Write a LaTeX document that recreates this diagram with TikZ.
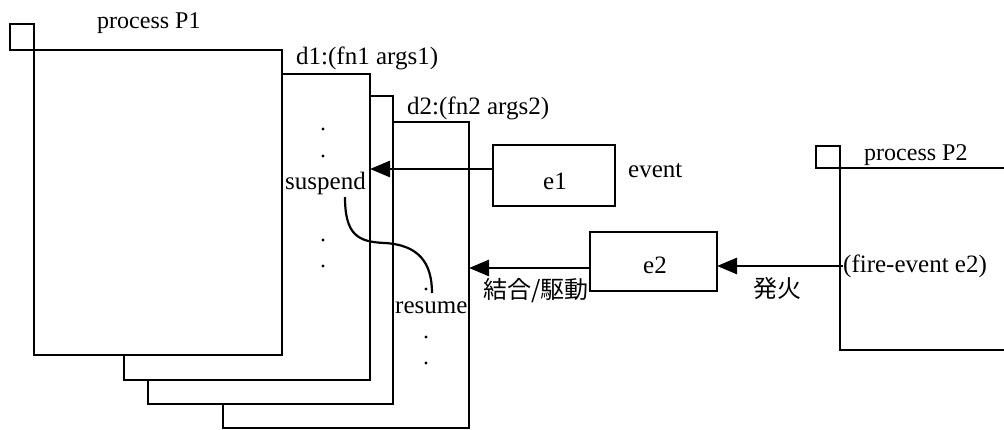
\documentclass[tikz,border=0pt]{standalone}
\usepackage{fontspec}
\setmainfont{Liberation Serif}
\newfontfamily\cjk{Noto Sans CJK JP}
\usetikzlibrary{arrows.meta}
\begin{document}
\begin{tikzpicture}[x=1pt,y=-1pt,
  box/.style={draw, line width=2.8pt, fill=white, inner sep=0pt, outer sep=0pt, rectangle},
  lbl/.style={inner sep=0pt, font=\fontsize{25}{30}\selectfont},
  plbl/.style={inner sep=0pt, font=\fontsize{24}{28}\selectfont},
  cjklbl/.style={inner sep=0pt, font=\fontsize{24}{28}\selectfont\cjk},
  arr/.style={line width=2.8pt, -{Triangle[length=20pt,width=16pt]}},
  dotm/.style={circle, fill=black, inner sep=0pt, minimum size=3.4pt}]
\useasboundingbox (0,0) rectangle (1004,430);
% stacked pages (back to front)
\node[box, minimum width=246, minimum height=306] (d2) at (346,275) {};
\node[box, minimum width=245, minimum height=308] (d1b) at (270.5,250) {};
\node[box, minimum width=246, minimum height=306] (d1) at (247,227) {};
\node[box, minimum width=248, minimum height=305] (P1) at (158,202.5) {};
\node[box, minimum width=24, minimum height=26] (sq1) at (22,37) {};
% process P2 (runs off the right edge)
\node[box, minimum width=172, minimum height=182] (P2) at (926,259) {};
\node[box, minimum width=24, minimum height=22] (sq2) at (828,157) {};
% labels
\node[plbl, anchor=base west] (lp1) at (97,29) {process P1};
\node[lbl, anchor=base west] (ld1) at (296,65) {d1:(fn1 args1)};
\node[lbl, anchor=base west] (ld2) at (407,115) {d2:(fn2 args2)};
\node[plbl, anchor=base west] (lp2) at (864,161) {process P2};
\node[lbl, anchor=base west] (susp) at (285,190) {suspend};
\node[lbl, anchor=base west] (res) at (395,314) {resume};
% dots
\node[dotm] (a1) at (323,129) {};
\node[dotm] (a2) at (323,156) {};
\node[dotm] (a3) at (323,240) {};
\node[dotm] (a4) at (323,266) {};
\node[dotm] (b1) at (426,289) {};
\node[dotm] (b2) at (426,337) {};
\node[dotm] (b3) at (426,363) {};
% suspend -> resume curve
\coordinate (cs) at (345,197);
\coordinate (cm) at (385,243);
\coordinate (ce) at (432,293);
\draw[line width=2.2pt] (cs) .. controls (345,235) and (358,242) .. (cm)
  .. controls (418,245) and (432,262) .. (ce);
% events
\node[box, minimum width=122, minimum height=61] (e1) at (554,175.5) {};
\node[lbl, anchor=base] (te1) at (555,190) {e1};
\node[lbl, anchor=base west] (lev) at (628,178) {event};
\node[box, minimum width=127, minimum height=59] (e2) at (653.5,261.5) {};
\node[lbl, anchor=base] (te2) at (655,274) {e2};
\node[cjklbl, anchor=west] (lbind) at (483,291) {結合/駆動};
\node[cjklbl, anchor=west] (lfire) at (753,288) {発火};
\node[lbl, anchor=west] (fire) at (843,266) {(fire-event e2)};
% connectors
\draw[arr] (e1.west |- 0,169) -- (d1.east |- 0,169);
\draw[arr] (e2.west |- 0,268) -- (d2.east |- 0,268);
\draw[arr] (fire.west) -- (e2.east |- fire.west);
\end{tikzpicture}
\end{document}
